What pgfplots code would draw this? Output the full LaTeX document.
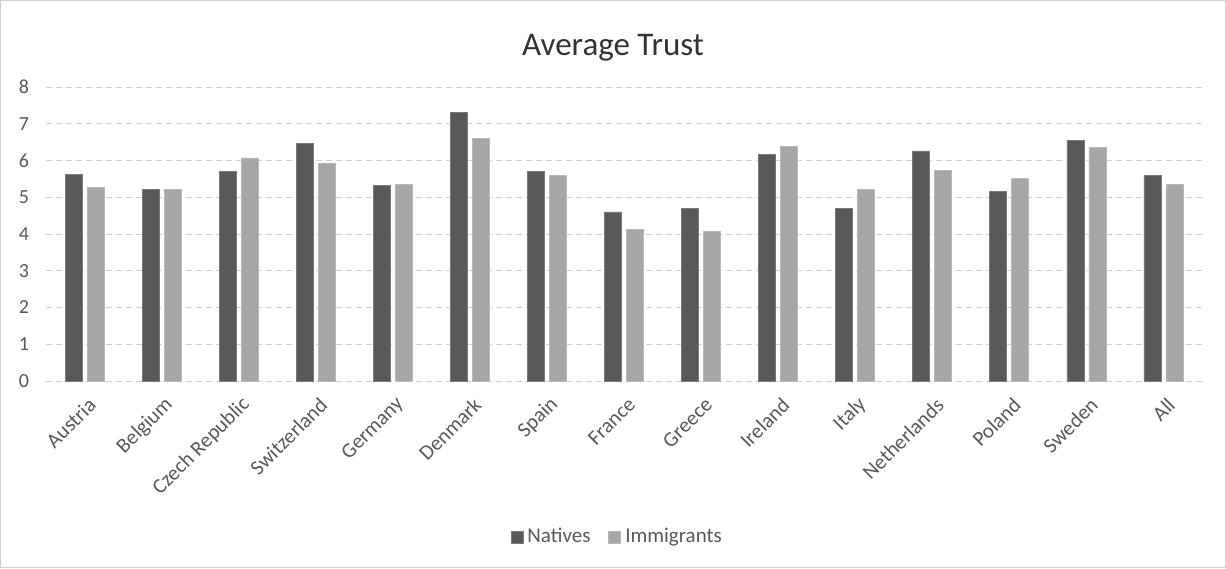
\documentclass[border=0pt]{standalone}
\usepackage{pgfplots}
\pgfplotsset{compat=1.18}
\usepackage{fontspec}
\setmainfont{Carlito}
\definecolor{natc}{HTML}{595959}
\definecolor{immc}{HTML}{A6A6A6}
\definecolor{txtc}{HTML}{595959}
\definecolor{gridc}{HTML}{D0D0D0}
\begin{document}
\begin{tikzpicture}
\useasboundingbox (0,0) rectangle (613pt,284pt);
\draw[gridc, line width=0.6pt] (0.3pt,0.3pt) rectangle (612.7pt,283.7pt);
\begin{axis}[
  at={(23pt,93.5pt)}, anchor=south west,
  scale only axis, width=578pt, height=147pt,
  ybar=2.5pt, bar width=8.5pt,
  xmin=-0.5, xmax=14.5, ymin=0, ymax=8,
  xtick=data,
  xticklabels={Austria,Belgium,Czech Republic,Switzerland,Germany,Denmark,Spain,France,Greece,Ireland,Italy,Netherlands,Poland,Sweden,All},
  ytick={0,1,2,3,4,5,6,7,8},
  major tick length=0pt,
  axis line style={draw=none},
  ymajorgrids, major grid style={gridc, densely dashed, line width=0.5pt},
  tick label style={font=\fontsize{10}{12}\selectfont, text=txtc},
  /pgf/number format/assume math mode=true,
  yticklabel style={xshift=-5pt},
  xticklabel style={rotate=45, anchor=east, yshift=-10pt, xshift=-1pt, font=\fontsize{10.5}{12}\selectfont},
  title={Average Trust},
  title style={font=\fontsize{16.5}{19}\selectfont, text=black!80, at={(axis description cs:0.4905,1)}, anchor=center, yshift=13.5pt},
  legend style={at={(axis description cs:0.495,-0.531)}, anchor=center, draw=none, font=\fontsize{10.5}{12}\selectfont, text=txtc, column sep=0pt, /tikz/every even column/.append style={column sep=7pt}},
  legend columns=2,
  legend image code/.code={\fill[#1] (0pt,-3pt) rectangle (6pt,3pt);},
]
\addplot[fill=natc, draw=natc!80!white, line width=0.4pt] coordinates {
(0,5.63) (1,5.22) (2,5.70) (3,6.46) (4,5.32) (5,7.30) (6,5.70) (7,4.60) (8,4.70) (9,6.16) (10,4.70) (11,6.26) (12,5.17) (13,6.54) (14,5.59)};
\addplot[fill=immc, draw=immc!80!white, line width=0.4pt] coordinates {
(0,5.26) (1,5.22) (2,6.07) (3,5.92) (4,5.35) (5,6.59) (6,5.59) (7,4.12) (8,4.08) (9,6.39) (10,5.22) (11,5.74) (12,5.50) (13,6.35) (14,5.35)};
\legend{Natives,Immigrants}
\end{axis}
\end{tikzpicture}
\end{document}
